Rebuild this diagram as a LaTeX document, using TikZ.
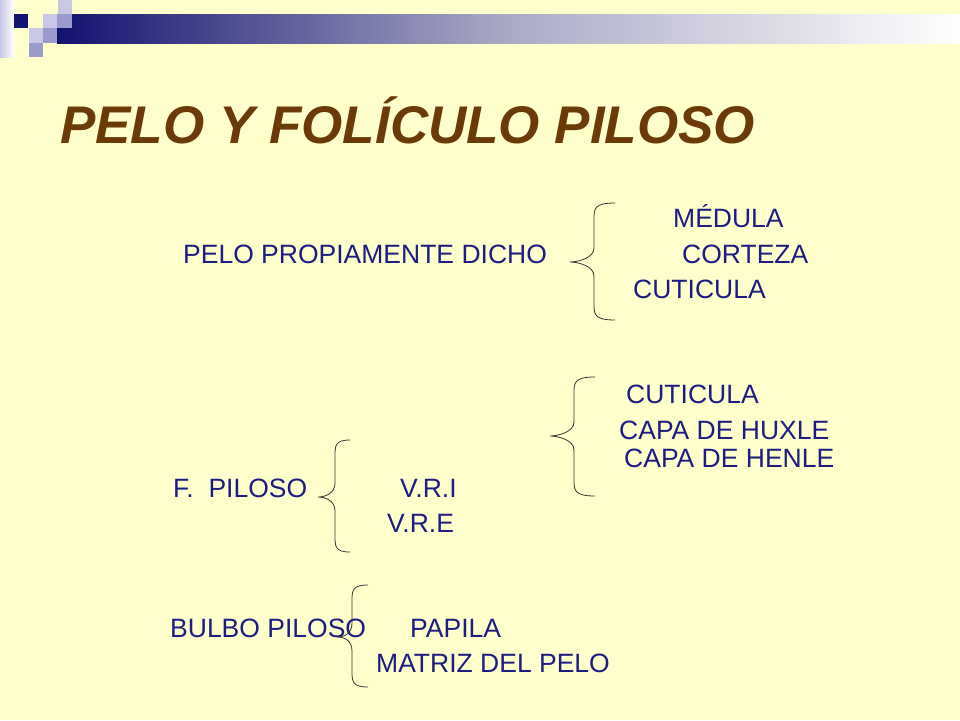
\documentclass[tikz,border=0pt]{standalone}
\usepackage{fontspec}
\setmainfont{Liberation Sans}
\usetikzlibrary{positioning}
\definecolor{slidebg}{HTML}{FFFFCC}
\definecolor{titlebrown}{HTML}{6B3A07}
\definecolor{textnavy}{HTML}{1C1C84}
\definecolor{barnavy}{HTML}{121270}
\definecolor{barmid}{HTML}{A8A8C4}
\definecolor{sqlight}{HTML}{C8C8E4}
\definecolor{sqmid}{HTML}{9A9ACC}
\tikzset{
  item/.style={anchor=base west, inner sep=0pt, font=\fontsize{26.5}{28}\selectfont, text=textnavy},
  brace/.style={draw=black!80, line width=0.8pt}
}
% left brace: line x, top y, tip x, tip y, bottom y, end x
\newcommand{\leftbrace}[6]{%
  \draw[brace] (#6,#2) .. controls (#1,#2) and (#1,#2+6) .. (#1,#2+16)
    -- (#1,#4-14) .. controls (#1,#4-4) and (#3+8,#4) .. (#3,#4)
    .. controls (#3+8,#4) and (#1,#4+4) .. (#1,#4+14)
    -- (#1,#5-16) .. controls (#1,#5-6) and (#1,#5) .. (#6,#5);}
\begin{document}
\begin{tikzpicture}[x=1pt,y=-1pt]
    \fill[slidebg] (0,0) rectangle (960,720);
    \useasboundingbox (0,0) rectangle (960,720);

    % header bar and squares
    \shade[left color=barnavy, right color=barmid] (57,14) rectangle (500,43);
    \shade[left color=barmid, right color=white] (500,14) rectangle (960,43);
    \shade[top color=sqlight, bottom color=white, shading angle=90] (0,0) rectangle (14,57);
    \fill[barnavy] (14,14) rectangle (28,28);
    \fill[sqlight] (58,0) rectangle (72,14);
    \fill[sqlight] (43,14) rectangle (57,28);
    \fill[sqmid] (57,14) rectangle (72,28);
    \fill[sqlight] (29,28) rectangle (43,43);
    \fill[sqmid] (43,28) rectangle (57,43);
    \fill[sqmid] (29,43) rectangle (43,57);

    % Title
    \node[anchor=base west, inner sep=0pt, font=\fontsize{53}{56}\selectfont\bfseries\itshape, text=titlebrown] (title) at (60,143) {PELO Y FOLÍCULO PILOSO};

    % Pelo propiamente dicho
    \node[item] (medula) at (673,227) {MÉDULA};
    \node[item] (pelo) at (183,263) {PELO PROPIAMENTE DICHO};
    \node[item] (corteza) at (682,263) {CORTEZA};
    \node[item] (cuticulaA) at (633,298) {CUTICULA};
    \leftbrace{594}{203}{570}{262}{320}{615}

    % Vainas
    \node[item] (cuticulaB) at (626,403) {CUTICULA};
    \node[item] (huxle) at (619,439) {CAPA DE HUXLE};
    \node[item] (henle) at (624,467) {CAPA DE HENLE};
    \leftbrace{574}{377}{550}{436}{496}{595}

    % Foliculo piloso
    \node[item] (foliculo) at (173,497) {F.\ \ PILOSO};
    \node[item] (vri) at (400,497) {V.R.I};
    \node[item] (vre) at (387,532) {V.R.E};
    \leftbrace{335}{440}{318}{497}{552}{350}

    % Bulbo piloso
    \node[item] (bulbo) at (170,637) {BULBO PILOSO};
    \node[item] (papila) at (410,637) {PAPILA};
    \node[item] (matriz) at (376,672) {MATRIZ DEL PELO};
    \leftbrace{352}{585}{337}{637}{687}{368}
\end{tikzpicture}
\end{document}
